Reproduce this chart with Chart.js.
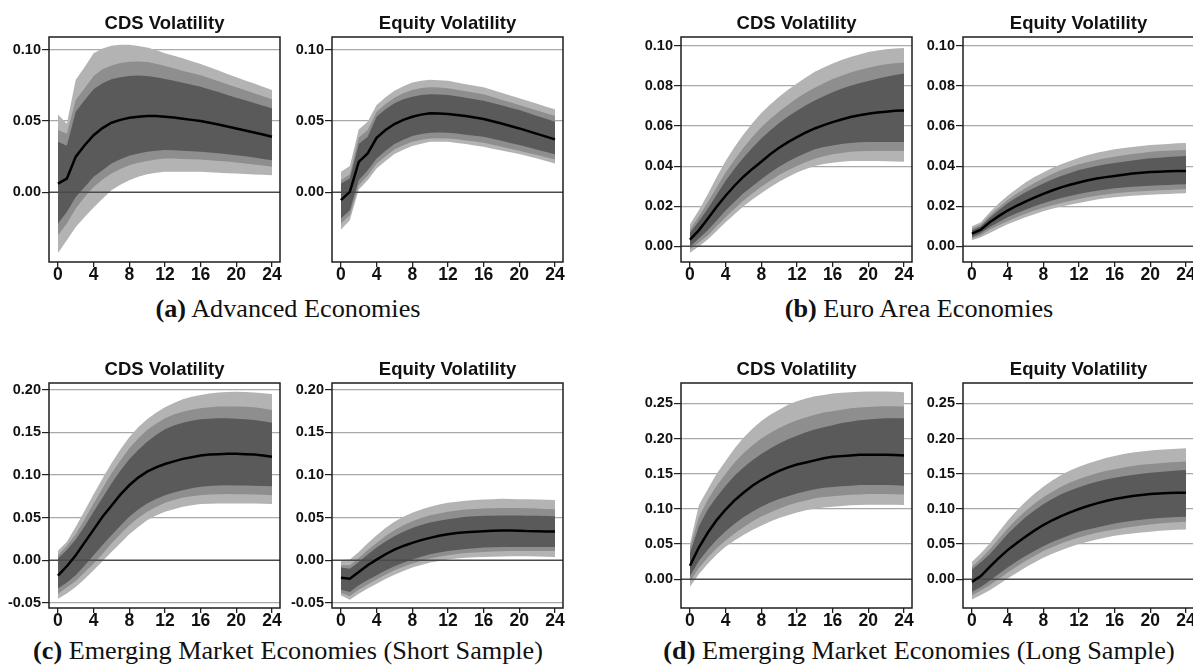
<!DOCTYPE html>
<html>
<head>
<meta charset="utf-8">
<script src="https://cdn.jsdelivr.net/npm/chart.js@4.4.1/dist/chart.umd.min.js"></script>
<style>
  html, body { margin: 0; padding: 0; background: #fff; }
  body { position: relative; width: 1193px; height: 668px; overflow: hidden; }
  canvas { position: absolute; }
  .cap {
    position: absolute; width: 700px; text-align: center; white-space: nowrap;
    font-family: 'Liberation Serif', 'Times New Roman', serif; font-size: 24.5px;
    line-height: 26px; color: #111; transform: scaleX(1.07);
  }
</style>
</head>
<body>
<div class="cap" style="left:-62px; top:296px;"><b>(a)</b> Advanced Economies</div>
<div class="cap" style="left:569px; top:296px;"><b>(b)</b> Euro Area Economies</div>
<div class="cap" style="left:-62px; top:638px;"><b>(c)</b> Emerging Market Economies (Short Sample)</div>
<div class="cap" style="left:569px; top:638px;"><b>(d)</b> Emerging Market Economies (Long Sample)</div>
<script>
// Forecast horizon (months) and axis ticks
const horizons = [0,1,2,3,4,5,6,7,8,9,10,11,12,13,14,15,16,17,18,19,20,21,22,23,24];
const horizonTicks = [0, 4, 8, 12, 16, 20, 24];
const ticksAdvanced = [0, 0.05, 0.10];
const ticksEuro = [0, 0.02, 0.04, 0.06, 0.08, 0.10];
const ticksEmShort = [-0.05, 0, 0.05, 0.10, 0.15, 0.20];
const ticksEmLong = [0, 0.05, 0.10, 0.15, 0.20, 0.25];

// (a) Advanced economies — CDS volatility
const advCdsMed  = [0.006,0.0095,0.025,0.033,0.040,0.045,0.0488,0.0508,0.0523,0.053,0.0535,0.0535,0.053,0.0524,0.0516,0.0508,0.050,0.0488,0.0476,0.0462,0.0448,0.0434,0.042,0.0405,0.039];
const advCdsHi90 = [0.0547,0.048,0.0789,0.088,0.0976,0.101,0.1028,0.1035,0.1035,0.1027,0.1016,0.0998,0.0976,0.0958,0.094,0.092,0.090,0.0877,0.0854,0.083,0.0807,0.0785,0.0763,0.074,0.0718];
const advCdsHi80 = [0.0437,0.041,0.0648,0.073,0.0817,0.0864,0.089,0.0908,0.0917,0.0918,0.0915,0.0903,0.0887,0.087,0.0852,0.0837,0.0822,0.0801,0.078,0.0758,0.0737,0.0716,0.0695,0.0674,0.0653];
const advCdsHi68 = [0.0354,0.0326,0.0565,0.0648,0.0723,0.0765,0.0793,0.0808,0.0817,0.0819,0.0817,0.0808,0.0795,0.0782,0.0768,0.0755,0.0741,0.0722,0.0703,0.0683,0.0664,0.0645,0.0626,0.0607,0.0589];
const advCdsLo68 = [-0.022,-0.0139,-0.0033,0.0037,0.0108,0.0155,0.0202,0.0232,0.0256,0.0272,0.0284,0.0292,0.0296,0.0294,0.0291,0.0288,0.0284,0.0279,0.0273,0.0267,0.026,0.0252,0.0243,0.0234,0.0225];
const advCdsLo80 = [-0.0303,-0.022,-0.0115,-0.0033,0.0037,0.0089,0.0131,0.0163,0.019,0.0207,0.022,0.023,0.0237,0.0236,0.0234,0.0232,0.023,0.0225,0.022,0.0215,0.0209,0.0202,0.0195,0.0187,0.0178];
const advCdsLo90 = [-0.0427,-0.0338,-0.0244,-0.0174,-0.0108,-0.0045,0.0014,0.0052,0.0084,0.0108,0.0127,0.0137,0.0143,0.0144,0.0144,0.0144,0.0143,0.014,0.0137,0.0134,0.0131,0.0128,0.0125,0.0122,0.012];

// (a) Advanced economies — equity volatility
const advEqMed  = [-0.0056,0.0002,0.0213,0.0272,0.0382,0.0437,0.0479,0.0508,0.053,0.0545,0.0554,0.0553,0.0549,0.0543,0.0535,0.0525,0.0514,0.0498,0.0482,0.0465,0.0448,0.0429,0.041,0.039,0.0371];
const advEqHi90 = [0.0143,0.0185,0.0441,0.0495,0.0612,0.0667,0.0713,0.0745,0.077,0.0783,0.0789,0.0787,0.0782,0.0771,0.0759,0.0748,0.0737,0.0718,0.0699,0.0679,0.066,0.064,0.0621,0.0601,0.0582];
const advEqHi80 = [0.0084,0.0127,0.0385,0.0437,0.0565,0.062,0.0664,0.0695,0.0718,0.0731,0.0737,0.0735,0.073,0.072,0.0709,0.0699,0.0688,0.0669,0.065,0.0631,0.0612,0.0593,0.0574,0.0554,0.0535];
const advEqHi68 = [0.0061,0.0096,0.0338,0.039,0.053,0.0582,0.0624,0.0652,0.0671,0.0683,0.0688,0.0687,0.0683,0.0674,0.0663,0.0653,0.0643,0.0627,0.061,0.0594,0.0577,0.0557,0.0536,0.0516,0.0495];
const advEqLo68 = [-0.0185,-0.0127,0.0084,0.0155,0.0237,0.0291,0.0338,0.0369,0.0394,0.0408,0.0418,0.0419,0.0418,0.0412,0.0404,0.0397,0.039,0.0376,0.0361,0.0346,0.0331,0.0315,0.0299,0.0283,0.0267];
const advEqLo80 = [-0.022,-0.0162,0.0049,0.0115,0.0202,0.0253,0.03,0.0329,0.0354,0.0368,0.0378,0.0379,0.0378,0.0372,0.0364,0.0356,0.0347,0.0333,0.0319,0.0305,0.0291,0.0276,0.0261,0.0245,0.023];
const advEqLo90 = [-0.0263,-0.0197,0.0019,0.0084,0.0167,0.022,0.0268,0.0298,0.0324,0.0341,0.0354,0.0355,0.0354,0.0346,0.0338,0.0328,0.0319,0.0306,0.0293,0.028,0.0268,0.0252,0.0236,0.0219,0.0202];

// (b) Euro area — CDS volatility
const euroCdsMed  = [0.0033,0.0079,0.0137,0.0197,0.0252,0.0302,0.0347,0.0386,0.0422,0.0459,0.0492,0.052,0.0545,0.0568,0.0588,0.0605,0.062,0.0633,0.0645,0.0654,0.0662,0.0668,0.0672,0.0676,0.0678];
const euroCdsHi90 = [0.0109,0.018,0.026,0.0345,0.0426,0.0495,0.0558,0.0614,0.0665,0.0708,0.0747,0.0782,0.0813,0.0843,0.0871,0.0893,0.0912,0.093,0.0945,0.0958,0.097,0.0978,0.0984,0.0988,0.099];
const euroCdsHi80 = [0.0083,0.0148,0.0219,0.0295,0.0368,0.0432,0.0492,0.0545,0.0594,0.0635,0.0673,0.0707,0.0739,0.0766,0.0792,0.0814,0.0835,0.0852,0.0868,0.088,0.0891,0.0901,0.0909,0.0914,0.0917];
const euroCdsHi68 = [0.0066,0.0124,0.0187,0.0257,0.0327,0.0387,0.0442,0.0492,0.0538,0.0578,0.0615,0.0648,0.0677,0.0704,0.0728,0.0749,0.0769,0.0786,0.0802,0.0814,0.0825,0.0836,0.0846,0.0855,0.0863];
const euroCdsLo68 = [-0.0003,0.0038,0.0079,0.0128,0.0178,0.0222,0.0264,0.03,0.0335,0.0367,0.0397,0.0423,0.0446,0.0466,0.0484,0.0495,0.0503,0.051,0.0516,0.0519,0.0521,0.0521,0.0521,0.052,0.052];
const euroCdsLo80 = [-0.0016,0.0018,0.0054,0.0099,0.0145,0.0187,0.0228,0.0263,0.0297,0.0327,0.0355,0.0379,0.0401,0.042,0.0437,0.0449,0.0459,0.0466,0.0472,0.0474,0.0475,0.0475,0.0475,0.0475,0.0475];
const euroCdsLo90 = [-0.0033,-0.0001,0.0033,0.0076,0.012,0.016,0.02,0.0233,0.0264,0.0294,0.0322,0.0346,0.0368,0.0386,0.0401,0.041,0.0417,0.0422,0.0426,0.0426,0.0426,0.0425,0.0424,0.0423,0.0422];

// (b) Euro area — equity volatility
const euroEqMed  = [0.0063,0.0083,0.012,0.015,0.0178,0.0202,0.0223,0.0243,0.0261,0.0278,0.0294,0.0307,0.0318,0.0329,0.0338,0.0345,0.0351,0.0357,0.0363,0.0367,0.037,0.0372,0.0374,0.0375,0.0376];
const euroEqHi90 = [0.0099,0.012,0.017,0.0213,0.0252,0.0286,0.0318,0.0345,0.0368,0.039,0.0409,0.0426,0.0442,0.0455,0.0467,0.0476,0.0484,0.049,0.0496,0.0501,0.0505,0.0508,0.0511,0.0514,0.0516];
const euroEqHi80 = [0.0088,0.0108,0.0153,0.0193,0.0231,0.0262,0.029,0.0316,0.034,0.0361,0.038,0.0395,0.0409,0.0421,0.0431,0.0439,0.0447,0.0454,0.046,0.0466,0.0472,0.0475,0.0477,0.0479,0.048];
const euroEqHi68 = [0.0079,0.0098,0.0142,0.0179,0.0214,0.0243,0.0269,0.0292,0.0313,0.0333,0.0351,0.0366,0.038,0.0391,0.0401,0.0409,0.0416,0.0422,0.0428,0.0434,0.0439,0.0442,0.0445,0.0448,0.045];
const euroEqLo68 = [0.0046,0.0066,0.0096,0.0121,0.0145,0.0164,0.0182,0.0199,0.0214,0.0228,0.0241,0.0251,0.0261,0.0269,0.0277,0.0283,0.0289,0.0293,0.0297,0.03,0.0302,0.0304,0.0306,0.0308,0.031];
const euroEqLo80 = [0.0038,0.0055,0.0083,0.0104,0.0125,0.0144,0.0162,0.0178,0.0192,0.0204,0.0216,0.0226,0.0236,0.0244,0.0252,0.0258,0.0264,0.0268,0.0272,0.0275,0.0277,0.0279,0.0281,0.0283,0.0285];
const euroEqLo90 = [0.003,0.0045,0.0066,0.0088,0.0109,0.0127,0.0145,0.016,0.0175,0.0187,0.0198,0.0207,0.0216,0.0225,0.0233,0.0239,0.0244,0.0248,0.0252,0.0255,0.0257,0.0259,0.0261,0.0263,0.0265];

// (c) Emerging markets, short sample — CDS volatility
const emsCdsMed  = [-0.018,-0.007,0.006,0.021,0.036,0.051,0.064,0.077,0.088,0.097,0.104,0.109,0.113,0.116,0.119,0.121,0.123,0.124,0.1245,0.125,0.125,0.1245,0.124,0.123,0.1215];
const emsCdsHi90 = [0.011,0.0216,0.0392,0.058,0.0776,0.096,0.1137,0.13,0.1443,0.156,0.1654,0.173,0.1795,0.1846,0.189,0.192,0.194,0.1956,0.1968,0.1973,0.1976,0.1974,0.197,0.196,0.195];
const emsCdsHi80 = [0.0059,0.017,0.0306,0.048,0.0666,0.0845,0.1019,0.117,0.1313,0.1428,0.1529,0.1602,0.1666,0.171,0.1744,0.1767,0.1784,0.1795,0.1803,0.1804,0.1803,0.18,0.1795,0.178,0.1764];
const emsCdsHi68 = [0.002,0.012,0.0243,0.04,0.0568,0.0735,0.0902,0.105,0.1184,0.1295,0.1392,0.147,0.1537,0.158,0.1615,0.1638,0.1654,0.1662,0.1666,0.1665,0.1662,0.1655,0.1646,0.163,0.1615];
const emsCdsLo68 = [-0.0333,-0.026,-0.0176,-0.006,0.0059,0.0178,0.0294,0.0405,0.051,0.0595,0.0666,0.072,0.0764,0.0796,0.0823,0.0845,0.0862,0.0872,0.0878,0.0879,0.0878,0.0876,0.0874,0.0872,0.087];
const emsCdsLo80 = [-0.0392,-0.032,-0.0243,-0.014,-0.0039,0.0075,0.0196,0.0305,0.0412,0.0495,0.0568,0.0625,0.0674,0.0708,0.0737,0.0752,0.0764,0.0771,0.0776,0.0777,0.0776,0.0774,0.0772,0.0768,0.0764];
const emsCdsLo90 = [-0.0451,-0.039,-0.0314,-0.022,-0.0118,-0.001,0.0098,0.02,0.0306,0.039,0.047,0.0525,0.0568,0.06,0.0627,0.0645,0.0659,0.0664,0.0666,0.0666,0.0666,0.0666,0.0666,0.0662,0.0659];

// (c) Emerging markets, short sample — equity volatility
const emsEqMed  = [-0.0204,-0.0216,-0.0137,-0.0059,0.0008,0.0071,0.0125,0.0168,0.0204,0.0236,0.0263,0.0287,0.0306,0.0319,0.0329,0.0336,0.0341,0.0345,0.0349,0.0348,0.0345,0.0342,0.034,0.0338,0.0337];
const emsEqHi90 = [0.0,0.0008,0.0098,0.02,0.0294,0.038,0.0451,0.051,0.0557,0.0595,0.0627,0.0653,0.0674,0.0688,0.0698,0.0706,0.0713,0.0717,0.0721,0.072,0.0717,0.0715,0.0712,0.0709,0.0706];
const emsEqHi80 = [-0.0059,-0.0059,0.0027,0.012,0.0204,0.0284,0.0353,0.041,0.0459,0.0497,0.0529,0.055,0.0568,0.0583,0.0596,0.0603,0.0608,0.061,0.0612,0.0612,0.0612,0.061,0.0607,0.0603,0.06];
const emsEqHi68 = [-0.0086,-0.0098,-0.002,0.0068,0.0149,0.022,0.0282,0.0335,0.038,0.0414,0.0443,0.0465,0.0482,0.0497,0.051,0.0516,0.0521,0.0523,0.0525,0.0525,0.0525,0.0523,0.0521,0.0519,0.0517];
const emsEqLo68 = [-0.0345,-0.0372,-0.0294,-0.0232,-0.0176,-0.0121,-0.0071,-0.0029,0.0008,0.0042,0.0071,0.0092,0.011,0.0122,0.0133,0.0142,0.0149,0.0153,0.0155,0.0156,0.0157,0.0157,0.0157,0.0157,0.0157];
const emsEqLo80 = [-0.0384,-0.0419,-0.0345,-0.0285,-0.0227,-0.0171,-0.0118,-0.0077,-0.0039,-0.0008,0.002,0.004,0.0059,0.0073,0.0086,0.0092,0.0098,0.0102,0.0106,0.0108,0.011,0.011,0.011,0.011,0.011];
const emsEqLo90 = [-0.0412,-0.0463,-0.0392,-0.0332,-0.0274,-0.022,-0.0169,-0.0126,-0.0086,-0.0054,-0.0027,-0.0008,0.0008,0.002,0.0031,0.0035,0.0039,0.0042,0.0045,0.0046,0.0047,0.0046,0.0044,0.0042,0.0039];

// (d) Emerging markets, long sample — CDS volatility
const emlCdsMed  = [0.019,0.045,0.066,0.084,0.099,0.112,0.123,0.133,0.141,0.148,0.154,0.159,0.163,0.166,0.169,0.172,0.174,0.175,0.176,0.177,0.177,0.177,0.177,0.1765,0.176];
const emlCdsHi90 = [0.05,0.105,0.128,0.15,0.168,0.186,0.201,0.214,0.225,0.234,0.241,0.248,0.253,0.257,0.26,0.262,0.264,0.265,0.266,0.2665,0.267,0.267,0.267,0.2665,0.266];
const emlCdsHi80 = [0.044,0.088,0.113,0.133,0.15,0.166,0.179,0.19,0.2,0.208,0.215,0.221,0.226,0.23,0.234,0.237,0.239,0.241,0.243,0.244,0.245,0.2455,0.246,0.246,0.2455];
const emlCdsHi68 = [0.037,0.075,0.099,0.117,0.133,0.147,0.159,0.169,0.178,0.186,0.193,0.199,0.204,0.209,0.213,0.216,0.219,0.222,0.224,0.226,0.227,0.228,0.229,0.229,0.229];
const emlCdsLo68 = [0.004,0.026,0.042,0.056,0.068,0.079,0.088,0.096,0.103,0.109,0.114,0.118,0.122,0.125,0.128,0.13,0.131,0.132,0.133,0.134,0.134,0.134,0.134,0.1335,0.133];
const emlCdsLo80 = [-0.004,0.016,0.031,0.044,0.055,0.065,0.074,0.082,0.089,0.095,0.1,0.105,0.109,0.112,0.115,0.117,0.118,0.119,0.12,0.1205,0.121,0.121,0.121,0.1208,0.1205];
const emlCdsLo90 = [-0.011,0.007,0.022,0.035,0.046,0.055,0.063,0.07,0.076,0.082,0.087,0.091,0.095,0.098,0.1,0.102,0.103,0.104,0.105,0.1055,0.106,0.106,0.106,0.1057,0.1055];

// (d) Emerging markets, long sample — equity volatility
const emlEqMed  = [-0.0038,0.0043,0.0176,0.03,0.0413,0.0512,0.0603,0.069,0.077,0.0838,0.0898,0.0951,0.0998,0.104,0.1078,0.1111,0.114,0.1163,0.1183,0.1198,0.1211,0.122,0.1226,0.1229,0.123];
const emlEqHi90 = [0.0247,0.037,0.0508,0.067,0.0831,0.0972,0.1102,0.1215,0.1316,0.1405,0.1482,0.1545,0.16,0.1646,0.1686,0.1722,0.1753,0.1779,0.18,0.1816,0.1829,0.184,0.1849,0.1856,0.1862];
const emlEqHi80 = [0.0176,0.029,0.0423,0.057,0.0722,0.0852,0.0969,0.1073,0.1164,0.1245,0.1316,0.1375,0.1425,0.1468,0.1506,0.1537,0.1563,0.1588,0.161,0.1626,0.1639,0.165,0.1659,0.1666,0.1672];
const emlEqHi68 = [0.0138,0.024,0.0356,0.0495,0.0641,0.0765,0.0879,0.0977,0.1064,0.114,0.1207,0.1261,0.1306,0.135,0.1387,0.1417,0.1444,0.1464,0.1482,0.1499,0.1515,0.1526,0.1536,0.1545,0.1553];
const emlEqLo68 = [-0.018,-0.011,-0.0024,0.0073,0.0166,0.0251,0.0328,0.0402,0.047,0.0527,0.058,0.0629,0.0675,0.0707,0.0736,0.0765,0.0793,0.0813,0.0831,0.0846,0.086,0.087,0.0878,0.0884,0.0888];
const emlEqLo80 = [-0.0228,-0.016,-0.0086,0.0003,0.0095,0.0178,0.0257,0.0331,0.0399,0.0455,0.0508,0.0552,0.0594,0.0628,0.066,0.0685,0.0708,0.0728,0.0746,0.0763,0.0779,0.0792,0.0803,0.0811,0.0817];
const emlEqLo90 = [-0.029,-0.0225,-0.0157,-0.0075,0.001,0.0089,0.0166,0.0237,0.0304,0.0361,0.0413,0.0458,0.0499,0.0534,0.0565,0.0592,0.0618,0.0636,0.0651,0.0664,0.0675,0.0687,0.0697,0.0703,0.0708];

// ---- drawing ----
const BAND_LIGHT = '#b3b3b3';
const BAND_MID = '#8e8e8e';
const BAND_DARK = '#5a5a5a';
const Y_AXIS_W = 49, PLOT_W = 231, PAD_RIGHT = 12, CANVAS_H = 290, X_AXIS_H = 28;
const SANS = "'Liberation Sans', Arial, sans-serif";

// zero reference line, drawn over the bands but under the median
const zeroLine = {
  id: 'zeroLine',
  beforeDatasetDraw(chart, args) {
    if (args.index !== 0) return;
    const { ctx, chartArea: a } = chart;
    const y = chart.scales.y.getPixelForValue(0);
    ctx.save();
    ctx.strokeStyle = '#4a4a4a';
    ctx.lineWidth = 1.5;
    ctx.beginPath();
    ctx.moveTo(a.left, y);
    ctx.lineTo(a.right, y);
    ctx.stroke();
    ctx.restore();
  }
};

// box around the plotting region
const frameBox = {
  id: 'frameBox',
  afterDatasetsDraw(chart) {
    const { ctx, chartArea: a } = chart;
    ctx.save();
    ctx.strokeStyle = '#1e1e1e';
    ctx.lineWidth = 1.5;
    ctx.strokeRect(a.left, a.top, a.right - a.left, a.bottom - a.top);
    ctx.restore();
  }
};

const toXY = arr => arr.map((v, i) => ({ x: horizons[i], y: v }));

function fanPanel(p) {
  const c = document.createElement('canvas');
  c.width = Y_AXIS_W + PLOT_W + PAD_RIGHT;
  c.height = CANVAS_H;
  c.style.left = (p.left - Y_AXIS_W) + 'px';
  c.style.top = p.top + 'px';
  document.body.appendChild(c);

  const bound = { borderWidth: 0, pointRadius: 0, fill: false };
  new Chart(c, {
    type: 'line',
    data: {
      datasets: [
        { data: toXY(p.med), borderColor: '#000', borderWidth: 2.5, pointRadius: 0, fill: false },
        { ...bound, data: toXY(p.hi68), backgroundColor: BAND_DARK, fill: '+1' },
        { ...bound, data: toXY(p.lo68) },
        { ...bound, data: toXY(p.hi80), backgroundColor: BAND_MID, fill: '+1' },
        { ...bound, data: toXY(p.lo80) },
        { ...bound, data: toXY(p.hi90), backgroundColor: BAND_LIGHT, fill: '+1' },
        { ...bound, data: toXY(p.lo90) }
      ]
    },
    options: {
      responsive: false,
      animation: false,
      events: [],
      layout: { padding: { left: 0, right: PAD_RIGHT, top: 0, bottom: 0 } },
      plugins: {
        legend: { display: false },
        tooltip: { enabled: false },
        title: {
          display: true, text: p.title, fullSize: false, color: '#111',
          font: { family: SANS, size: 18.5, weight: 'bold' },
          padding: { top: 12.5, bottom: 2.3 }
        }
      },
      scales: {
        x: {
          type: 'linear', min: -1, max: 24.9,
          afterBuildTicks: ax => { ax.ticks = horizonTicks.map(v => ({ value: v })); },
          afterFit: ax => { ax.height = X_AXIS_H; },
          border: { display: false },
          grid: { drawOnChartArea: false, drawTicks: true, tickLength: 5, tickColor: '#222', lineWidth: 1.3 },
          ticks: {
            color: '#111', padding: -2, maxRotation: 0, autoSkip: false,
            font: { family: SANS, size: 17.5, weight: 'bold' },
            callback: v => String(v)
          }
        },
        y: {
          min: p.yMin, max: p.yMax,
          afterBuildTicks: ax => { ax.ticks = p.yTicks.map(v => ({ value: v })); },
          afterFit: ax => { ax.width = Y_AXIS_W; },
          border: { display: false },
          grid: {
            color: ctx => (ctx.tick && ctx.tick.value === 0) ? 'rgba(0,0,0,0)' : '#a9a9a9',
            lineWidth: 1.2, drawTicks: true, tickLength: 7, tickColor: '#222'
          },
          ticks: {
            color: '#111', padding: 1, autoSkip: false,
            font: { family: SANS, size: 14.5, weight: 'bold' },
            callback: v => v.toFixed(2)
          }
        }
      }
    },
    plugins: [zeroLine, frameBox]
  });
}

const ROW1 = 0, ROW2 = 346;
fanPanel({ title: 'CDS Volatility', left: 49, top: ROW1, yMin: -0.049, yMax: 0.109, yTicks: ticksAdvanced,
  med: advCdsMed, hi90: advCdsHi90, hi80: advCdsHi80, hi68: advCdsHi68, lo68: advCdsLo68, lo80: advCdsLo80, lo90: advCdsLo90 });
fanPanel({ title: 'Equity Volatility', left: 332, top: ROW1, yMin: -0.049, yMax: 0.109, yTicks: ticksAdvanced,
  med: advEqMed, hi90: advEqHi90, hi80: advEqHi80, hi68: advEqHi68, lo68: advEqLo68, lo80: advEqLo80, lo90: advEqLo90 });
fanPanel({ title: 'CDS Volatility', left: 681, top: ROW1, yMin: -0.0079, yMax: 0.1045, yTicks: ticksEuro,
  med: euroCdsMed, hi90: euroCdsHi90, hi80: euroCdsHi80, hi68: euroCdsHi68, lo68: euroCdsLo68, lo80: euroCdsLo80, lo90: euroCdsLo90 });
fanPanel({ title: 'Equity Volatility', left: 963, top: ROW1, yMin: -0.0079, yMax: 0.1045, yTicks: ticksEuro,
  med: euroEqMed, hi90: euroEqHi90, hi80: euroEqHi80, hi68: euroEqHi68, lo68: euroEqLo68, lo80: euroEqLo80, lo90: euroEqLo90 });
fanPanel({ title: 'CDS Volatility', left: 49, top: ROW2, yMin: -0.056, yMax: 0.208, yTicks: ticksEmShort,
  med: emsCdsMed, hi90: emsCdsHi90, hi80: emsCdsHi80, hi68: emsCdsHi68, lo68: emsCdsLo68, lo80: emsCdsLo80, lo90: emsCdsLo90 });
fanPanel({ title: 'Equity Volatility', left: 332, top: ROW2, yMin: -0.056, yMax: 0.208, yTicks: ticksEmShort,
  med: emsEqMed, hi90: emsEqHi90, hi80: emsEqHi80, hi68: emsEqHi68, lo68: emsEqLo68, lo80: emsEqLo80, lo90: emsEqLo90 });
fanPanel({ title: 'CDS Volatility', left: 681, top: ROW2, yMin: -0.041, yMax: 0.279, yTicks: ticksEmLong,
  med: emlCdsMed, hi90: emlCdsHi90, hi80: emlCdsHi80, hi68: emlCdsHi68, lo68: emlCdsLo68, lo80: emlCdsLo80, lo90: emlCdsLo90 });
fanPanel({ title: 'Equity Volatility', left: 963, top: ROW2, yMin: -0.041, yMax: 0.279, yTicks: ticksEmLong,
  med: emlEqMed, hi90: emlEqHi90, hi80: emlEqHi80, hi68: emlEqHi68, lo68: emlEqLo68, lo80: emlEqLo80, lo90: emlEqLo90 });
</script>
</body>
</html>
